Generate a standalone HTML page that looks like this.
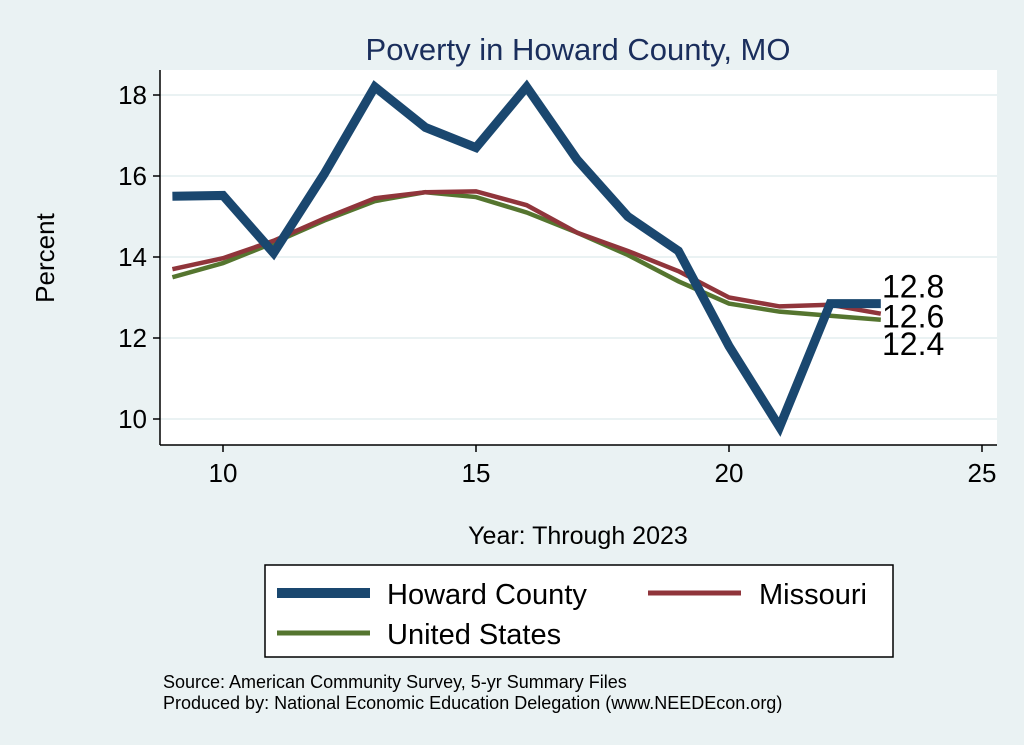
<!DOCTYPE html>
<html><head><meta charset="utf-8"><style>
body{margin:0;background:#eaf2f3;}
svg{display:block;font-family:"Liberation Sans",Arial,sans-serif;}
</style></head><body>
<svg id="c" width="1024" height="745" viewBox="0 0 1024 745">
<rect x="0" y="0" width="1024" height="745" fill="#eaf2f3"/>
<rect x="160" y="70" width="837" height="375" fill="#ffffff"/>
<text x="578" y="60" font-size="31" fill="#1a2e5c" text-anchor="middle">Poverty in Howard County, MO</text>
<g id="grid"></g><g id="axes"></g><g id="series"></g>
<text x="54" y="258" font-size="26" text-anchor="middle" transform="rotate(-90 54 258)">Percent</text>
<text x="578" y="544" font-size="25" text-anchor="middle">Year: Through 2023</text>
<g>
<rect x="265" y="565" width="628" height="92" fill="#fff" stroke="#000" stroke-width="1.5"/>
<line x1="277" y1="593" x2="370" y2="593" stroke="#1a476f" stroke-width="10"/>
<text x="387" y="604" font-size="29">Howard County</text>
<line x1="648" y1="593" x2="741" y2="593" stroke="#90353b" stroke-width="5"/>
<text x="759" y="604" font-size="29">Missouri</text>
<line x1="277" y1="633" x2="370" y2="633" stroke="#55752f" stroke-width="5"/>
<text x="387" y="644" font-size="29">United States</text>
</g>
<text x="163" y="688" font-size="18">Source: American Community Survey, 5-yr Summary Files</text>
<text x="163" y="709" font-size="18">Produced by: National Economic Education Delegation (www.NEEDEcon.org)</text>
</svg>
<script>
const years=[9,10,11,12,13,14,15,16,17,18,19,20,21,22,23];
const howard=[15.5,15.52,14.1,16.05,18.2,17.2,16.7,18.2,16.4,15.0,14.15,11.8,9.8,12.85,12.85];
const missouri=[13.7,13.97,14.4,14.95,15.45,15.6,15.62,15.28,14.6,14.15,13.65,13.0,12.78,12.82,12.6];
const us=[13.5,13.85,14.35,14.9,15.38,15.6,15.48,15.1,14.6,14.05,13.4,12.85,12.65,12.55,12.45];
const xTicks=[10,15,20,25];
const yTicks=[10,12,14,16,18];
const endLabels=["12.8","12.6","12.4"];
const NS="http://www.w3.org/2000/svg";
const X=v=>223+(v-10)*50.6, Y=v=>95+(18-v)*40.5;
function mk(t,a,p){const e=document.createElementNS(NS,t);for(const k in a)e.setAttribute(k,a[k]);document.getElementById(p).appendChild(e);return e;}
yTicks.forEach(t=>{
 const g=mk('line',{x1:160,x2:997,y1:Y(t),y2:Y(t),stroke:'#eaf2f3','stroke-width':2},'grid');
 
 
 mk('line',{x1:153,x2:160,y1:Y(t),y2:Y(t),stroke:'#000','stroke-width':1.5},'axes');
 const l=mk('text',{x:147,y:Y(t)+9,'font-size':26,'text-anchor':'end'},'axes');l.textContent=t;
 
 
});
mk('line',{x1:160,x2:160,y1:70,y2:445,stroke:'#000','stroke-width':1.5},'axes');
mk('line',{x1:160,x2:997,y1:445,y2:445,stroke:'#000','stroke-width':1.5},'axes');
xTicks.forEach(t=>{
 mk('line',{x1:X(t),x2:X(t),y1:445,y2:452,stroke:'#000','stroke-width':1.5},'axes');
 const l=mk('text',{x:X(t),y:482,'font-size':26,'text-anchor':'middle'},'axes');l.textContent=t;
 
 
});
[[us,'#55752f',4.5,'us-line'],[missouri,'#90353b',4.5,'missouri-line'],[howard,'#1a476f',9,'howard-line']].forEach(([d,c,w,n])=>{
 const p=mk('polyline',{points:d.map((v,i)=>X(years[i])+','+Y(v)).join(' '),fill:'none',stroke:c,'stroke-width':w,'stroke-linejoin':'miter'},'series');
 
 
});
const ly=[Y(howard[howard.length-1])-17,Y(missouri[missouri.length-1])+3,Y(us[us.length-1])+24];
endLabels.forEach((s,i)=>{
 const t=mk('text',{x:882,y:ly[i]+11,'font-size':32},'series');t.textContent=s;
 
 
});
</script>
</body></html>
